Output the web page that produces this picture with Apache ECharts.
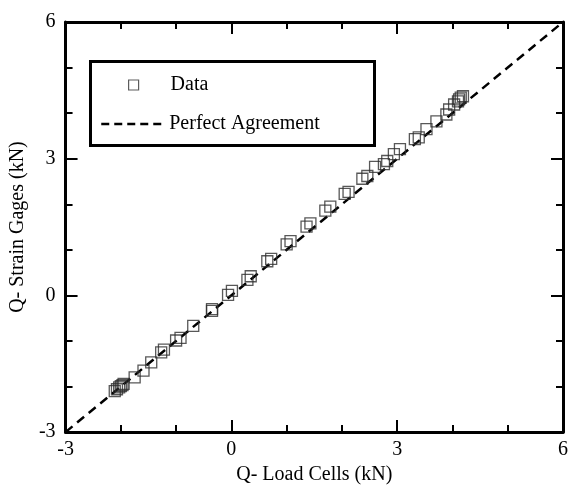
<!DOCTYPE html>
<html>
<head>
<meta charset="utf-8">
<script src="https://cdn.jsdelivr.net/npm/echarts@6/dist/echarts.min.js"></script>
<style>
  html, body { margin: 0; padding: 0; background: #fff; }
  #chart { width: 571px; height: 490px; }
</style>
</head>
<body>
<div id="chart"></div>
<script>
// Shear measured by load cells vs. shear from strain gages (kN)
const loadCells = [
  -2.11, -2.07, -2.03, -2.0, -1.97, -1.95,
  -1.75, -1.59, -1.45, -1.27, -1.22, -1.0, -0.92, -0.69,
  -0.35, -0.35, -0.06, 0.01, 0.29, 0.35, 0.65, 0.72, 1.0, 1.07,
  1.36, 1.43, 1.70, 1.79, 2.05, 2.12, 2.37, 2.46, 2.60, 2.76, 2.82,
  2.94, 3.05, 3.32, 3.39, 3.53, 3.71, 3.89, 3.94, 4.03, 4.10, 4.12, 4.15, 4.19
];
const strainGages = [
  -2.10, -2.06, -2.02, -1.99, -1.97, -1.94,
  -1.80, -1.65, -1.47, -1.25, -1.19, -0.99, -0.93, -0.67,
  -0.34, -0.30, 0.01, 0.10, 0.34, 0.42, 0.75, 0.80, 1.12, 1.19,
  1.51, 1.58, 1.86, 1.95, 2.23, 2.27, 2.56, 2.62, 2.82, 2.88, 2.95,
  3.10, 3.21, 3.43, 3.47, 3.65, 3.82, 3.97, 4.08, 4.19, 4.26, 4.30, 4.34, 4.37
];
// 1:1 reference line
const agreementX = [-3, 6];
const agreementY = [-3, 6];
const axisMin = -3, axisMax = 6, axisStep = 3;
const xTitle = 'Q- Load Cells (kN)';
const yTitle = 'Q- Strain Gages (kN)';
const seriesNames = ['Data', 'Perfect Agreement'];

const font = '"Liberation Serif", "Times New Roman", serif';
const points = loadCells.map((x, i) => [x, strainGages[i]]);
const line = agreementX.map((x, i) => [x, agreementY[i]]);

function frameAxis(position, showLabels, name) {
  return {
    type: 'value', position: position,
    min: axisMin, max: axisMax, interval: axisStep,
    name: name || '', nameLocation: 'middle',
    nameGap: position === 'bottom' ? 27 : 35,
    nameTextStyle: { fontFamily: font, fontSize: 20, color: '#000' },
    axisLine: { show: true, onZero: false, lineStyle: { color: '#000', width: 3 } },
    axisTick: { show: true, inside: true, length: 12, lineStyle: { color: '#000', width: 2 } },
    minorTick: { show: true, splitNumber: 3, length: 7, lineStyle: { color: '#000', width: 2 } },
    splitLine: { show: false },
    axisLabel: {
      show: showLabels, fontFamily: font, fontSize: 20, color: '#000',
      margin: position === 'bottom' ? 8 : 10
    }
  };
}

const chart = echarts.init(document.getElementById('chart'), null, { renderer: 'canvas' });
chart.setOption({
  animation: false,
  backgroundColor: '#fff',
  grid: { left: 63, top: 22, right: 2, bottom: 54, containLabel: false },
  xAxis: [frameAxis('bottom', true, xTitle), frameAxis('top', false)],
  yAxis: [frameAxis('left', true, yTitle), frameAxis('right', false)],
  legend: [
    {
      data: [seriesNames[0]], left: 128, top: 75, padding: 0,
      itemWidth: 10, itemHeight: 10,
      itemStyle: { borderColor: '#333', borderWidth: 1.2 },
      textStyle: { fontFamily: font, fontSize: 20, color: '#000', padding: [0, 0, 0, 27] }
    },
    {
      data: [seriesNames[1]], left: 100, top: 114, padding: 0,
      itemWidth: 63, itemHeight: 14,
      itemStyle: { opacity: 0 },
      lineStyle: { color: '#000', width: 2.5, type: [8, 5] },
      textStyle: { fontFamily: font, fontSize: 20, color: '#000' }
    }
  ],
  graphic: [{
    type: 'rect', left: 88, top: 59, z: 10,
    shape: { width: 284, height: 84 },
    style: { fill: 'none', stroke: '#000', lineWidth: 3 }
  }],
  series: [
    {
      name: seriesNames[1], type: 'line', data: line,
      symbol: 'none', silent: true,
      itemStyle: { color: '#000' },
      lineStyle: { color: '#000', width: 2.5, type: [9, 6] },
      z: 2
    },
    {
      name: seriesNames[0], type: 'scatter', data: points,
      symbol: 'rect', symbolSize: 11,
      itemStyle: { color: 'rgba(0,0,0,0)', borderColor: '#2e2e2e', borderWidth: 1.3 },
      z: 3
    }
  ]
});
</script>
</body>
</html>
